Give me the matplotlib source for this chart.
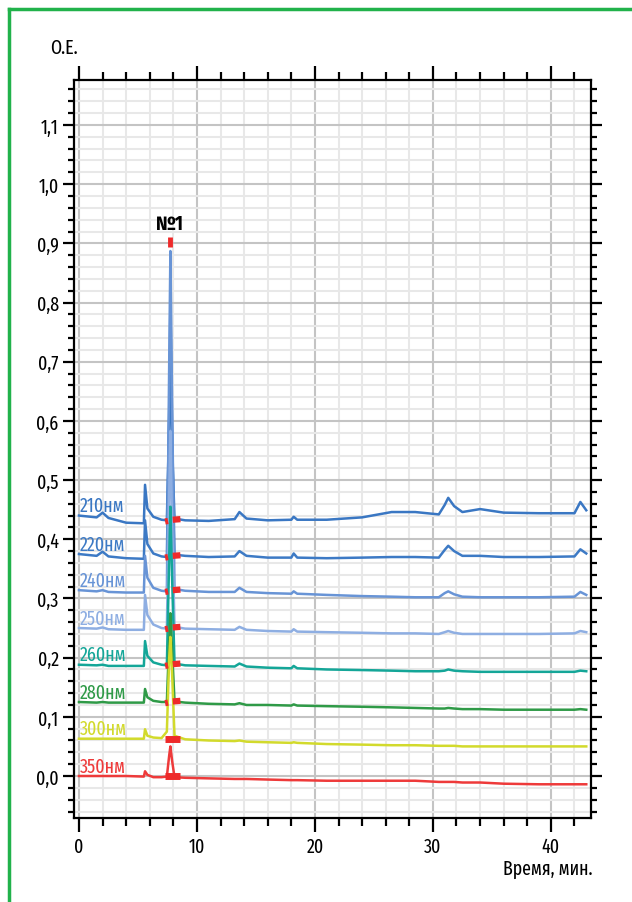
import matplotlib.pyplot as plt
from matplotlib.lines import Line2D
from matplotlib.ticker import MultipleLocator, FuncFormatter

plt.rcParams['font.family'] = ['Fira Sans Extra Condensed', 'DejaVu Sans']
plt.rcParams['font.stretch'] = 'condensed'

# время, мин (общая сетка для всех хроматограмм)
t = [0.0, 1.5, 2.0, 2.5, 4.0, 5.5, 5.6, 5.8, 6.3, 7.0,
     7.45, 7.65, 7.75, 7.9, 8.1, 9.0, 11.0, 13.2, 13.6, 14.2,
     16.0, 18.0, 18.2, 18.5, 21.0, 24.0, 26.5, 28.5, 30.5, 31.0,
     31.3, 31.8, 32.5, 34.0, 36.0, 39.0, 42.0, 42.5, 43.0]

# оптическая плотность при разных длинах волн (со смещением)
y210 = [0.440, 0.437, 0.445, 0.436, 0.428, 0.427, 0.492, 0.452, 0.438, 0.433,
        0.432, 0.600, 0.720, 0.550, 0.435, 0.432, 0.431, 0.434, 0.446, 0.435,
        0.432, 0.433, 0.438, 0.433, 0.433, 0.437, 0.446, 0.446, 0.442, 0.458,
        0.470, 0.456, 0.446, 0.451, 0.445, 0.444, 0.444, 0.463, 0.449]
y220 = [0.375, 0.372, 0.379, 0.371, 0.368, 0.367, 0.432, 0.392, 0.376, 0.371,
        0.370, 0.620, 0.800, 0.580, 0.374, 0.372, 0.370, 0.371, 0.380, 0.372,
        0.369, 0.369, 0.376, 0.369, 0.368, 0.369, 0.370, 0.370, 0.369, 0.382,
        0.389, 0.380, 0.372, 0.372, 0.370, 0.370, 0.371, 0.383, 0.376]
y240 = [0.314, 0.312, 0.314, 0.311, 0.310, 0.310, 0.372, 0.335, 0.318, 0.313,
        0.312, 0.700, 0.887, 0.620, 0.316, 0.313, 0.311, 0.311, 0.318, 0.311,
        0.309, 0.308, 0.312, 0.308, 0.306, 0.304, 0.303, 0.302, 0.302, 0.309,
        0.312, 0.307, 0.303, 0.302, 0.302, 0.302, 0.303, 0.311, 0.306]
y250 = [0.250, 0.249, 0.251, 0.248, 0.247, 0.247, 0.306, 0.272, 0.256, 0.250,
        0.249, 0.480, 0.583, 0.420, 0.252, 0.249, 0.248, 0.247, 0.252, 0.247,
        0.245, 0.244, 0.248, 0.244, 0.243, 0.242, 0.241, 0.241, 0.240, 0.243,
        0.245, 0.242, 0.240, 0.240, 0.240, 0.240, 0.241, 0.245, 0.243]
y260 = [0.188, 0.187, 0.188, 0.186, 0.186, 0.186, 0.228, 0.203, 0.192, 0.188,
        0.187, 0.370, 0.455, 0.330, 0.190, 0.187, 0.186, 0.185, 0.190, 0.185,
        0.183, 0.182, 0.186, 0.182, 0.180, 0.179, 0.178, 0.177, 0.177, 0.178,
        0.180, 0.178, 0.177, 0.176, 0.176, 0.176, 0.176, 0.178, 0.177]
y280 = [0.125, 0.124, 0.125, 0.124, 0.124, 0.124, 0.147, 0.133, 0.127, 0.125,
        0.125, 0.230, 0.275, 0.210, 0.126, 0.124, 0.122, 0.121, 0.123, 0.120,
        0.120, 0.119, 0.121, 0.119, 0.118, 0.117, 0.116, 0.115, 0.114, 0.114,
        0.115, 0.114, 0.113, 0.113, 0.112, 0.112, 0.112, 0.113, 0.112]
y300 = [0.063, 0.063, 0.063, 0.063, 0.063, 0.063, 0.079, 0.068, 0.065, 0.064,
        0.075, 0.200, 0.235, 0.170, 0.068, 0.062, 0.060, 0.059, 0.060, 0.058,
        0.057, 0.056, 0.057, 0.056, 0.054, 0.053, 0.052, 0.052, 0.051, 0.051,
        0.051, 0.051, 0.050, 0.050, 0.050, 0.050, 0.050, 0.050, 0.050]
y350 = [0.000, 0.000, 0.000, 0.000, 0.000, -0.001, 0.008, 0.002, -0.002, -0.002,
        -0.001, 0.035, 0.050, 0.025, -0.002, -0.003, -0.004, -0.005, -0.005, -0.005,
        -0.006, -0.007, -0.007, -0.007, -0.008, -0.008, -0.008, -0.008, -0.010, -0.010,
        -0.010, -0.010, -0.011, -0.011, -0.013, -0.014, -0.014, -0.014, -0.014]

labels = ['210нм', '220нм', '240нм', '250нм', '260нм', '280нм', '300нм', '350нм']
series = [y210, y220, y240, y250, y260, y280, y300, y350]
colors = ['#3a77c3', '#3d7ac5', '#6894d6', '#8eaee2', '#14a698', '#2f9a47', '#d2da2c', '#ee3a3a']

# границы пика №1 (отметки интегрирования)
peak_start, peak_end = 7.3, 8.6
gap_start, gap_end = 7.55, 7.95
peak_levels = [0.432, 0.371, 0.313, 0.250, 0.188, 0.125, 0.062, 0.000]
peak1_time = 7.75
peak1_top = [0.894, 0.910]

fig = plt.figure(figsize=(6.32, 9.03), dpi=100)
ax = fig.add_axes([0.1171, 0.0930, 0.8180, 0.8173])

for ys, lab, c in zip(series, labels, colors):
    ax.plot(t, ys, color=c, lw=1.8, zorder=3)
    ax.text(0.1, ys[0] + 0.017, lab, color=c, fontsize=14, va='center', ha='left', zorder=4)

# красные отметки начала и конца пика
red = '#ee2a2a'
for lev in peak_levels:
    if lev < 0.1:
        ax.plot([peak_start, peak_end], [lev, lev], color=red, lw=5,
                solid_capstyle='butt', zorder=4)
    else:
        ax.plot([peak_start, gap_start], [lev - 0.002, lev - 0.001], color=red, lw=4.5,
                solid_capstyle='butt', zorder=4)
        ax.plot([gap_end, peak_end], [lev + 0.001, lev + 0.002], color=red, lw=4.5,
                solid_capstyle='butt', zorder=4)
ax.plot([peak1_time, peak1_time], peak1_top, color=red, lw=3.5,
        solid_capstyle='butt', zorder=5)
ax.text(peak1_time, 0.934, '№1', fontsize=14, fontweight='bold', ha='center', va='center',
        family=['Fira Sans Condensed', 'DejaVu Sans'])

ax.set_xlim(-0.42, 43.4)
ax.set_ylim(-0.071, 1.176)

ax.xaxis.set_major_locator(MultipleLocator(10))
ax.xaxis.set_minor_locator(MultipleLocator(2))
ax.yaxis.set_major_locator(MultipleLocator(0.1))
ax.yaxis.set_minor_locator(MultipleLocator(0.02))
ax.yaxis.set_major_formatter(FuncFormatter(lambda v, p: f'{v:.1f}'.replace('.', ',').replace('-0,0', '0,0')))

ax.grid(which='major', color='#c4c4c4', lw=1.5, zorder=0)
ax.grid(which='minor', color='#e8e8e8', lw=1.5, zorder=0)
ax.set_axisbelow(True)

ax.tick_params(which='both', direction='out', top=True, right=True, width=1.6, labelsize=14)
ax.tick_params(axis='x', which='major', length=10, pad=3)
ax.tick_params(axis='x', which='minor', length=5.5)
ax.tick_params(axis='y', which='major', length=8, pad=3)
ax.tick_params(axis='y', which='minor', length=4)
for s in ax.spines.values():
    s.set_linewidth(1.6)

fig.text(0.079, 0.947, 'О.Е.', fontsize=14, va='center', ha='left')
fig.text(0.937, 0.0377, 'Время, мин.', fontsize=14, va='center', ha='right')

# зелёная рамка
fig.add_artist(Line2D([0.015, 0.015], [0.0, 0.9884], color='#21b24b', lw=2.5))
fig.add_artist(Line2D([0.015, 1.0], [0.9884, 0.9884], color='#21b24b', lw=2.5))

fig.savefig('out.png', dpi=100)
